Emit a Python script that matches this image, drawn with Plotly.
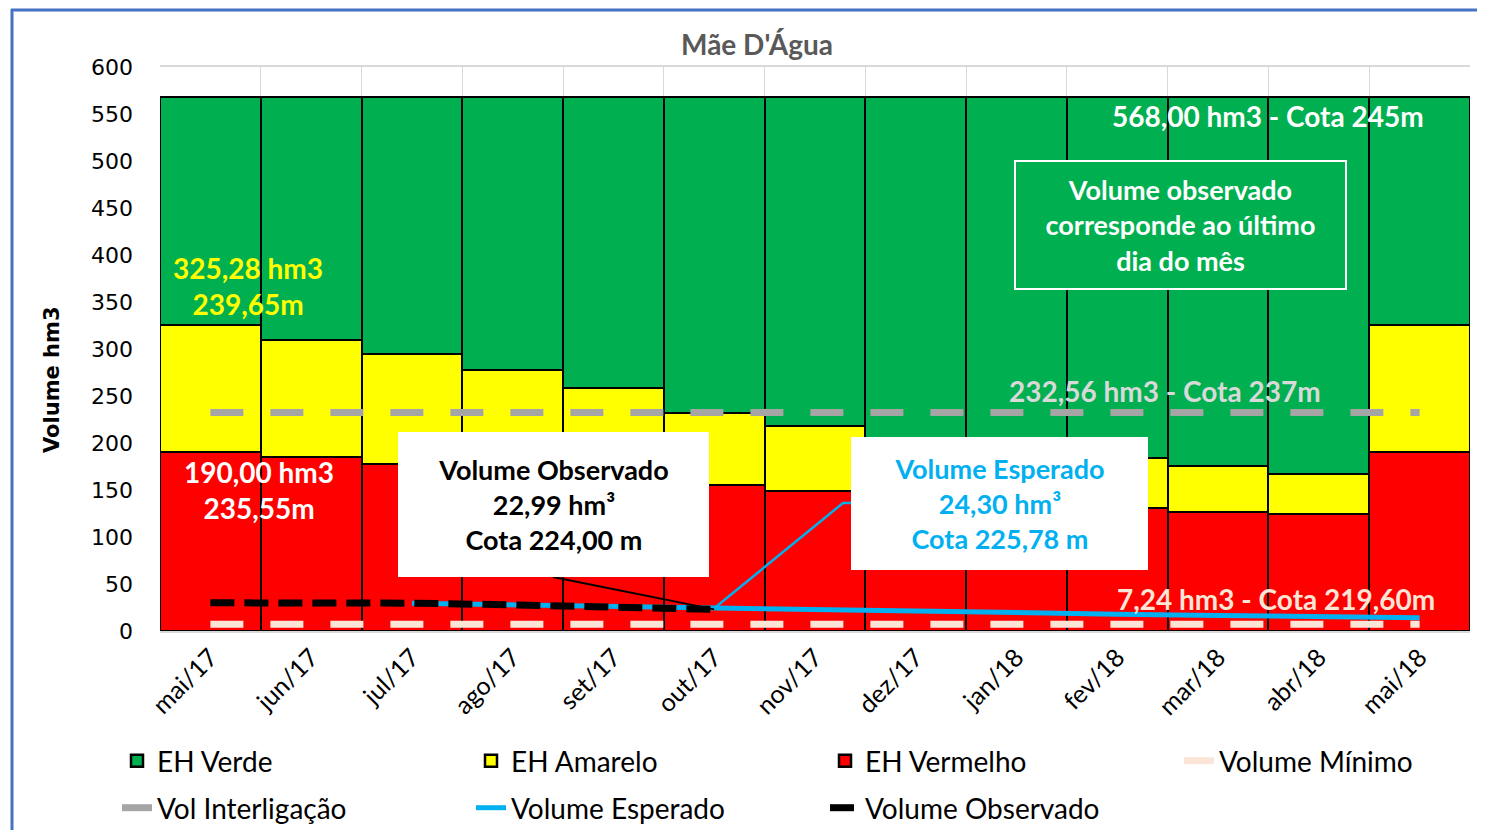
import plotly.graph_objects as go

# ---------------- data ----------------
months = ["mai/17", "jun/17", "jul/17", "ago/17", "set/17", "out/17", "nov/17",
          "dez/17", "jan/18", "fev/18", "mar/18", "abr/18", "mai/18"]
# upper limit of each zone (hm3)
limite_vermelho = [190.0, 184.8, 177.7, 170.5, 163.0, 155.3, 149.3, 143.0, 137.0, 130.5, 126.3, 124.5, 190.0]
limite_amarelo = [325.28, 309.6, 294.7, 277.7, 258.2, 231.6, 218.0, 205.0, 194.0, 183.7, 175.5, 166.7, 325.28]
capacidade = [568.0, 568.0, 568.0, 568.0, 568.0, 568.0, 568.0, 568.0, 568.0, 568.0, 568.0, 568.0, 568.0]
volume_minimo = [7.24, 7.24, 7.24, 7.24, 7.24, 7.24, 7.24, 7.24, 7.24, 7.24, 7.24, 7.24, 7.24]
vol_interligacao = [232.56, 232.56, 232.56, 232.56, 232.56, 232.56, 232.56, 232.56, 232.56, 232.56, 232.56, 232.56, 232.56]
volume_esperado = [None, None, 29.6, 27.8, 25.8, 24.3, 22.3, 20.8, 19.3, 17.9, 16.6, 15.4, 14.2]
volume_observado = [30.0, 30.0, 29.6, 27.8, 25.2, 22.99, None, None, None, None, None, None, None]

eh_vermelho = limite_vermelho
eh_amarelo = [a - v for a, v in zip(limite_amarelo, limite_vermelho)]
eh_verde = [c - a for c, a in zip(capacidade, limite_amarelo)]

# ---------------- geometry helpers (screen pixel -> paper / data) ----------------
OFF = 8                      # page body margin
FW, FH = 1485 - OFF, 830 - OFF
L, T, W, H = 160, 67, 1310, 564   # plot area on screen
YMAX = 600
N = len(months)

def pxx(p):
    return (p - L) / W

def pxy(p):
    return (T + H - p) / H

def dx(p):
    return (p - L) / W * N - 0.5

def dy(p):
    return (T + H - p) / H * YMAX

GREEN, YELLOW, RED = "#00B050", "#FFFF00", "#FF0000"
BLUE = "#00B0F0"
FONT = "Lato"

fig = go.Figure()
bar_line = dict(color="black", width=2.5)
fig.add_trace(go.Bar(x=months, y=eh_vermelho, name="EH Vermelho", marker=dict(color=RED, line=bar_line), legendrank=3))
fig.add_trace(go.Bar(x=months, y=eh_amarelo, name="EH Amarelo", marker=dict(color=YELLOW, line=bar_line), legendrank=2))
fig.add_trace(go.Bar(x=months, y=eh_verde, name="EH Verde", marker=dict(color=GREEN, line=bar_line), legendrank=1))

fig.add_trace(go.Scatter(x=months, y=volume_minimo, name="Volume Mínimo", mode="lines",
                         line=dict(color="#FBE5D6", width=7, dash="33px,27px"), legendrank=4))
fig.add_trace(go.Scatter(x=months, y=vol_interligacao, name="Vol Interligação", mode="lines",
                         line=dict(color="#A5A5A5", width=7, dash="33px,27px"), legendrank=5, legend="legend2"))
fig.add_trace(go.Scatter(x=months, y=volume_esperado, name="Volume Esperado", mode="lines",
                         line=dict(color=BLUE, width=5), legendrank=6, legend="legend2"))
fig.add_trace(go.Scatter(x=months, y=volume_observado, name="Volume Observado", mode="lines",
                         line=dict(color="black", width=7, dash="24px,10px"), legendrank=7, legend="legend2"))

annotations = []

def lab(text, x, y, color, size=28):
    annotations.append(dict(text=text, x=pxx(x), y=pxy(y), xref="paper", yref="paper",
                            showarrow=False, xanchor="center", yanchor="middle",
                            font=dict(family=FONT, size=size, color=color, weight="bold")))

lab("325,28 hm3<br>239,65m", 248, 286, YELLOW)
lab("190,00 hm3<br>235,55m", 259, 490, "white")
lab("568,00 hm3 - Cota 245m", 1268, 116, "white")
lab("232,56 hm3 - Cota 237m", 1165, 391, "#D9D9D9")
lab("7,24 hm3 - Cota 219,60m", 1276, 599, "#FBE5D6")

# y-axis title (placed like the original, slightly below the axis centre)
annotations.append(dict(text="Volume hm3", x=pxx(52), y=pxy(380), xref="paper", yref="paper",
                        showarrow=False, xanchor="center", yanchor="middle", textangle=-90,
                        font=dict(family="DejaVu Sans", size=21, color="black", weight="bold")))

def box(text, x0, x1, y0, y1, color, bg, border=None):
    annotations.append(dict(text=text, x=pxx((x0 + x1) / 2), y=pxy((y0 + y1) / 2),
                            xref="paper", yref="paper", showarrow=False,
                            xanchor="center", yanchor="middle",
                            width=x1 - x0 - (4 if border else 0), height=y1 - y0 - (4 if border else 0),
                            bgcolor=bg, bordercolor=border or bg, borderwidth=2 if border else 0,
                            borderpad=0, align="center",
                            font=dict(family=FONT, size=27, color=color, weight="bold")))

box("Volume Observado<br>22,99 hm³<br>Cota 224,00 m", 398, 709, 432, 577, "black", "white")
box("Volume Esperado<br>24,30 hm³<br>Cota 225,78 m", 851, 1148, 437, 570, BLUE, "white")
box("Volume observado<br>corresponde ao último<br>dia do mês", 1014, 1347, 160, 290, "white", GREEN, border="white")

shapes = [
    # leader lines (drawn in data coordinates towards the out/17 points)
    dict(type="line", xref="x", yref="y", x0=dx(553), y0=dy(577), x1=5, y1=volume_observado[5],
         line=dict(color="black", width=2), layer="above"),
    dict(type="path", xref="x", yref="y",
         path=f"M {dx(851)},{dy(503)} L {dx(843)},{dy(503)} L 5,{volume_esperado[5]}",
         line=dict(color=BLUE, width=2.5), layer="above"),
    # outer frame
    dict(type="line", xref="paper", yref="paper", x0=pxx(12), x1=pxx(12), y0=pxy(9), y1=pxy(835),
         line=dict(color="#4472C4", width=3)),
    dict(type="line", xref="paper", yref="paper", x0=pxx(11), x1=pxx(1490), y0=pxy(10), y1=pxy(10),
         line=dict(color="#4472C4", width=3)),
]

legend_common = dict(orientation="h", xanchor="left", yanchor="middle",
                     entrywidth=309, entrywidthmode="pixels", traceorder="normal",
                     font=dict(family=FONT, size=28, color="black"), bgcolor="rgba(0,0,0,0)")

fig.update_layout(
    width=FW, height=FH,
    barmode="stack", bargap=0,
    plot_bgcolor="white", paper_bgcolor="white",
    margin=dict(l=L - OFF, r=FW - (L - OFF) - W, t=T - OFF, b=FH - (T - OFF) - H, autoexpand=False),
    title=dict(text="Mãe D'Água", x=pxx(757), xref="paper", xanchor="center",
               y=1 - (45 - OFF) / FH, yref="container", yanchor="middle",
               font=dict(family=FONT, size=28, color="#595959", weight="bold")),
    xaxis=dict(type="category", tickangle=-45, tickson="boundaries", showgrid=True,
               gridcolor="#D9D9D9", gridwidth=1, showline=True, mirror=True,
               linecolor="#D9D9D9", linewidth=2,
               ticks="", tickfont=dict(family=FONT, size=25, color="black"),
               range=[-0.5, N - 0.5]),
    yaxis=dict(range=[0, YMAX], dtick=50, showgrid=True, gridcolor="#D9D9D9", zeroline=False,
               tickfont=dict(family="DejaVu Sans", size=22, color="black"),
               ticklabelstandoff=26),
    legend=dict(x=pxx(117), y=pxy(761), **legend_common),
    legend2=dict(x=pxx(117), y=pxy(808), **legend_common),
    annotations=annotations,
    shapes=shapes,
)

fig.write_html("out.html")
